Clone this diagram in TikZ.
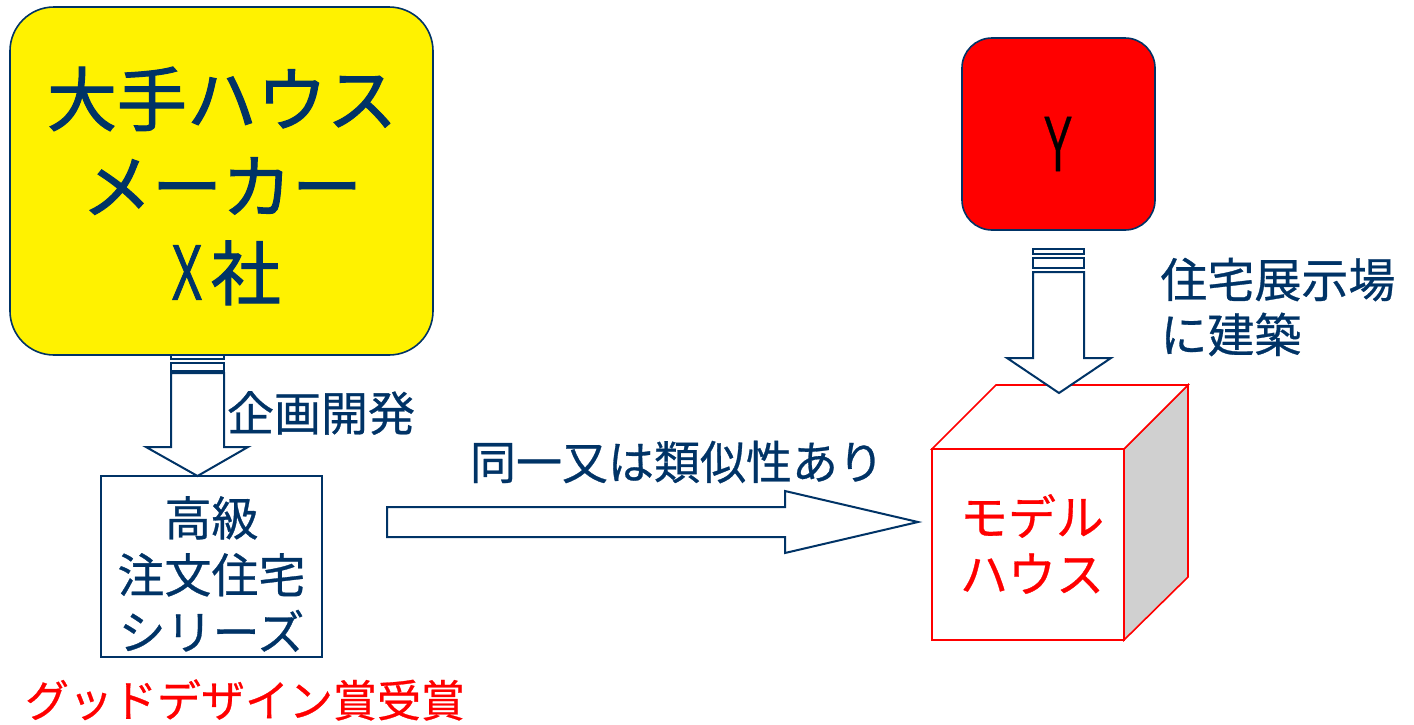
\documentclass[tikz,border=0pt]{standalone}
\usepackage{fontspec}
\setmainfont{Noto Sans CJK JP}
\newfontfamily\heavyfont[FakeBold=1.5]{Noto Sans CJK JP}
\newfontfamily\midfont[FakeBold=0.6]{Noto Sans CJK JP}
\definecolor{navy}{RGB}{0,51,102}
\definecolor{sidegray}{RGB}{208,208,208}
\begin{document}
\begin{tikzpicture}[x=0.5pt,y=-0.5pt,
  blockarrow/.style={draw=navy,line width=1pt,fill=white,line join=miter},
  navytext/.style={text=navy,align=center,inner sep=0pt},
  redtext/.style={text=red,align=center,inner sep=0pt}]
\useasboundingbox (0,0) rectangle (1414,724);
% big yellow box
\node[draw=navy,line width=0.8pt,fill=yellow,rounded corners=22pt,minimum width=211.5pt,minimum height=174pt,inner sep=0pt] (maker) at (221.5,181) {};
\node[navytext,font=\heavyfont\fontsize{35pt}{43.5pt}\selectfont] (makertxt) at (222,186) {大手ハウス\\メーカー\\\scalebox{0.68}[1.05]{Ｘ}社};
% left down arrow
\draw[blockarrow] (171,355) rectangle (224,359);
\draw[blockarrow] (171,363) rectangle (224,371);
\draw[blockarrow] (171,373) -- (224,373) -- (224,447) -- (248,447) -- (197.5,476) -- (146,447) -- (171,447) -- cycle;
\node[navytext,font=\midfont\fontsize{23.5pt}{28pt}\selectfont] (kikaku) at (321,413) {企画開発};
% series box
\node[draw=navy,line width=0.7pt,minimum width=110.5pt,minimum height=90.5pt,inner sep=0pt] (series) at (211.5,566.5) {};
\node[navytext,font=\midfont\fontsize{23.5pt}{28.5pt}\selectfont] (seriestxt) at (211.5,574) {高級\\注文住宅\\シリーズ};
\node[redtext,font=\midfont\fontsize{22pt}{26pt}\selectfont] (award) at (245,700) {グッドデザイン賞受賞};
% horizontal arrow
\draw[blockarrow] (387,507) -- (785,507) -- (785,491) -- (918,522) -- (785,553) -- (785,537) -- (387,537) -- cycle;
\node[navytext,font=\midfont\fontsize{23pt}{28pt}\selectfont] (similar) at (677,462) {同一又は類似性あり};
% Y box
\node[draw=navy,line width=0.8pt,fill=red,rounded corners=15pt,minimum width=96.5pt,minimum height=96pt,inner sep=0pt] (ybox) at (1058.5,134) {};
\node[inner sep=0pt,font=\midfont\fontsize{32pt}{36pt}\selectfont] (ytxt) at (1058,144) {\scalebox{0.7}[1.15]{Ｙ}};
% cube
\draw[red,line width=0.8pt,fill=sidegray] (1124,449) -- (1188,385) -- (1188,577) -- (1124,640) -- cycle;
\draw[red,line width=0.8pt,fill=white] (932,449) -- (996,385) -- (1188,385) -- (1124,449) -- cycle;
\node[draw=red,line width=0.8pt,fill=white,minimum width=96pt,minimum height=95.5pt,inner sep=0pt] (model) at (1028,544.5) {};
\node[redtext,font=\midfont\fontsize{24pt}{28.5pt}\selectfont] (modeltxt) at (1032,544) {モデル\\ハウス};
% right down arrow
\draw[blockarrow] (1033,249) rectangle (1084,254);
\draw[blockarrow] (1033,258) rectangle (1084,268);
\draw[blockarrow] (1033,272) -- (1084,272) -- (1084,358) -- (1111,358) -- (1059,393) -- (1007,358) -- (1033,358) -- cycle;
\node[navytext,align=left,anchor=west,font=\midfont\fontsize{23.5pt}{27.5pt}\selectfont] (tenji) at (1160,307) {住宅展示場\\に建築};
\end{tikzpicture}
\end{document}
